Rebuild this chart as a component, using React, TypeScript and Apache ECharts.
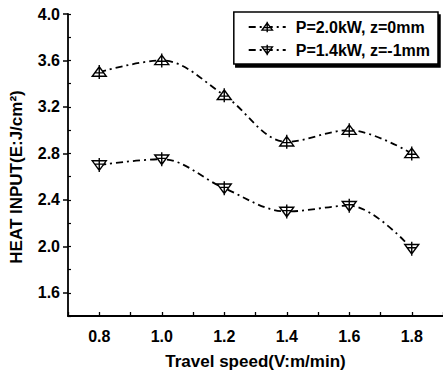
import React, { useEffect, useRef } from "react";
import * as echarts from "echarts";

const speeds = [0.8, 1.0, 1.2, 1.4, 1.6, 1.8];
const heatP20 = [3.5, 3.6, 3.3, 2.9, 3.0, 2.8];
const heatP14 = [2.7, 2.75, 2.5, 2.3, 2.35, 1.98];
const seriesNames = ["P=2.0kW, z=0mm", "P=1.4kW, z=-1mm"];
const xLabels = [0.8, 1.0, 1.2, 1.4, 1.6, 1.8];
const yLabels = [1.6, 2.0, 2.4, 2.8, 3.2, 3.6, 4.0];

const upTri = "path://M0,-10 L9,7 L-9,7 Z M0,-13 L0,12 M-6,1 L6,1";
const downTri = "path://M0,10 L9,-7 L-9,-7 Z M0,13 L0,-12 M-6,-1 L6,-1";

const FONT = "'Liberation Sans', Arial, sans-serif";

export default function App() {
  const ref = useRef<HTMLDivElement>(null);
  useEffect(() => {
    const chart = echarts.init(ref.current!, null, { renderer: "svg" });
    const lineStyle = { color: "#000", width: 1.8, type: [7, 4, 2, 4] as any };
    const itemStyle = { color: "#fff", borderColor: "#000", borderWidth: 1.4 };
    const labelStyle = { fontFamily: FONT, fontWeight: "bold", fontSize: 16, color: "#000" };
    chart.setOption({
      animation: false,
      backgroundColor: "#fff",
      textStyle: { fontFamily: FONT },
      grid: { left: 68, top: 14, right: 0, bottom: 58, containLabel: false },
      graphic: [
        {
          type: "text",
          x: 16,
          y: 177,
          rotation: Math.PI / 2,
          style: {
            text: "HEAT INPUT(E:J/cm²)",
            fontFamily: FONT,
            fontWeight: "bold",
            fontSize: 17,
            fill: "#000",
            textAlign: "center",
            textVerticalAlign: "middle",
          },
        },
      ],
      legend: {
        right: 5,
        top: 12,
        orient: "vertical",
        itemWidth: 37,
        itemHeight: 13,
        itemGap: 7,
        padding: [7, 8, 6, 14],
        backgroundColor: "#fff",
        borderColor: "#000",
        borderWidth: 1.5,
        borderRadius: 0,
        shadowColor: "#000",
        shadowOffsetX: 2,
        shadowOffsetY: 3,
        shadowBlur: 0,
        itemStyle: { color: "#fff", borderColor: "#000", borderWidth: 1.4 },
        lineStyle: { color: "#000", width: 1.8, type: [7, 4, 2, 4] as any },
        textStyle: { ...labelStyle, padding: [0, 0, 0, 5] },
        data: seriesNames,
      },
      xAxis: [
        {
          type: "value",
          min: 0.7,
          max: 1.9,
          interval: 0.1,
          name: "Travel speed(V:m/min)",
          nameLocation: "middle",
          nameGap: 37,
          nameTextStyle: { ...labelStyle, fontSize: 17 },
          axisLine: { lineStyle: { color: "#000", width: 1.8 } },
          axisTick: { inside: true, length: 4, lineStyle: { color: "#000", width: 1.3 } },
          axisLabel: {
            customValues: xLabels,
            formatter: (v: number) => v.toFixed(1),
            ...labelStyle,
            margin: 12,
          },
          splitLine: { show: false },
        },
      ],
      yAxis: [
        {
          type: "value",
          min: 1.4,
          max: 4.0,
          axisLine: { show: true, lineStyle: { color: "#000", width: 1.8 } },
          axisTick: { customValues: yLabels, length: 5, lineStyle: { color: "#000", width: 1.5 } },
          axisLabel: {
            customValues: yLabels,
            formatter: (v: number) => v.toFixed(1),
            ...labelStyle,
            margin: 8,
          },
          splitLine: { show: false },
        },
        {
          type: "value",
          min: 1.4,
          max: 4.0,
          interval: 0.2,
          position: "left",
          axisLine: { show: false },
          axisTick: { inside: true, length: 3, lineStyle: { color: "#000", width: 1.2 } },
          axisLabel: { show: false },
          splitLine: { show: false },
        },
      ],
      series: [
        {
          name: seriesNames[0],
          type: "line",
          smooth: 0.35,
          data: speeds.map((s, i) => [s, heatP20[i]]),
          symbol: upTri,
          symbolSize: 14,
          lineStyle,
          itemStyle,
          z: 3,
        },
        {
          name: seriesNames[1],
          type: "line",
          smooth: 0.35,
          data: speeds.map((s, i) => [s, heatP14[i]]),
          symbol: downTri,
          symbolSize: 14,
          lineStyle,
          itemStyle,
          z: 3,
        },
      ],
    });
    return () => chart.dispose();
  }, []);
  return <div ref={ref} style={{ position: "fixed", left: 0, top: 0, width: 443, height: 375 }} />;
}
